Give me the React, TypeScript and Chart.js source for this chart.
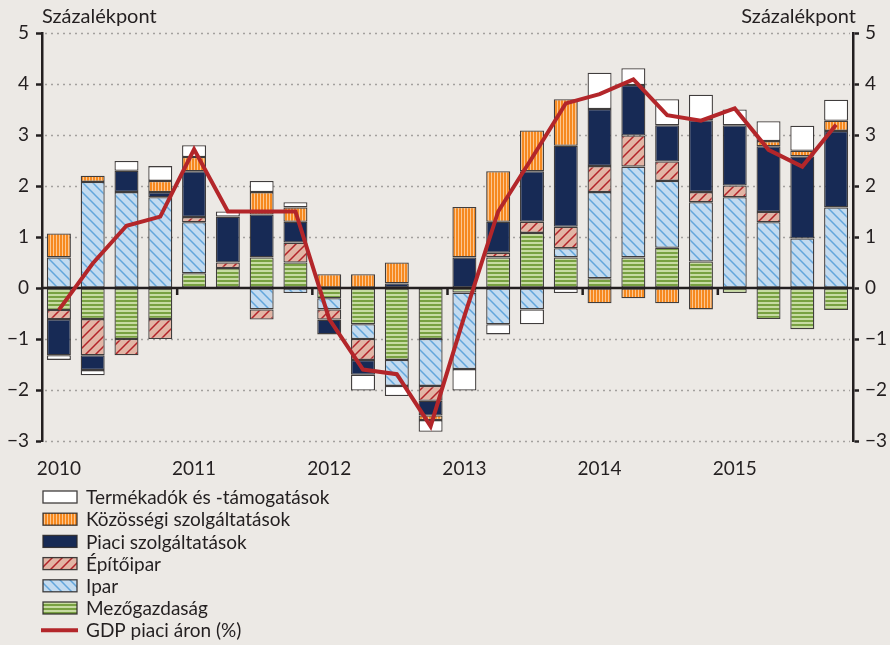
import React, { useEffect, useRef } from "react";
import { Chart, registerables } from "chart.js";
Chart.register(...registerables);

const categories = [
  "2010 I.", "2010 II.", "2010 III.", "2010 IV.",
  "2011 I.", "2011 II.", "2011 III.", "2011 IV.",
  "2012 I.", "2012 II.", "2012 III.", "2012 IV.",
  "2013 I.", "2013 II.", "2013 III.", "2013 IV.",
  "2014 I.", "2014 II.", "2014 III.", "2014 IV.",
  "2015 I.", "2015 II.", "2015 III.", "2015 IV.",
];
const yearTickLabels = [
  "2010", "", "", "", "2011", "", "", "", "2012", "", "", "",
  "2013", "", "", "", "2014", "", "", "", "2015", "", "", "",
];

const mezogazdasag = [-0.43, -0.61, -1.0, -0.61, 0.29, 0.39, 0.6, 0.5, -0.2, -0.71, -1.41, -1.0, -0.09, 0.6, 1.08, 0.6, 0.19, 0.6, 0.79, 0.52, -0.1, -0.61, -0.81, -0.43];
const ipar = [0.6, 2.08, 1.88, 1.78, 1.0, 0, -0.42, -0.1, -0.22, -0.29, -0.51, -0.92, -1.5, -0.71, -0.42, 0.18, 1.69, 1.78, 1.31, 1.16, 1.78, 1.29, 0.97, 1.58];
const epitoipar = [-0.18, -0.71, -0.32, -0.39, 0.1, 0.11, -0.2, 0.39, -0.2, -0.41, 0, -0.29, 0, 0.09, 0.22, 0.42, 0.51, 0.61, 0.38, 0.2, 0.23, 0.2, 0, 0];
const piaci = [-0.71, -0.29, 0.42, 0.1, 0.9, 0.9, 0.84, 0.41, -0.29, -0.29, 0.09, -0.29, 0.6, 0.61, 0.99, 1.59, 1.12, 0.99, 0.71, 1.41, 1.18, 1.29, 1.61, 1.5];
const kozossegi = [0.47, 0.12, 0, 0.22, 0.28, 0, 0.44, 0.28, 0.27, 0.27, 0.41, -0.09, 0.99, 0.99, 0.8, 0.91, -0.3, -0.2, -0.3, -0.42, 0, 0.1, 0.11, 0.2];
const termekadok = [-0.09, -0.1, 0.19, 0.29, 0.23, 0.1, 0.22, 0.1, 0, -0.31, -0.2, -0.23, -0.42, -0.2, -0.29, -0.1, 0.71, 0.33, 0.51, 0.5, 0.31, 0.39, 0.49, 0.41];
const gdp = [-0.43, 0.48, 1.22, 1.4, 2.72, 1.5, 1.5, 1.5, -0.61, -1.6, -1.69, -2.71, -0.55, 1.5, 2.55, 3.62, 3.8, 4.09, 3.39, 3.28, 3.52, 2.71, 2.38, 3.2];

const yMin = -3;
const yMax = 5;
const axisTitle = "Százalékpont";

const FONT = "Lato, 'Liberation Sans', sans-serif";
const BG = "#ece9e5";
const DARK = "#231f20";

function makePattern(kind: string): CanvasPattern | string {
  const c = document.createElement("canvas");
  const ctx = c.getContext("2d")!;
  if (kind === "ipar" || kind === "epito") {
    const s = 10;
    c.width = s;
    c.height = s;
    ctx.fillStyle = kind === "ipar" ? "#c3dbf0" : "#e2b5a5";
    ctx.fillRect(0, 0, s, s);
    ctx.strokeStyle = kind === "ipar" ? "#62a6dc" : "#b3242a";
    ctx.lineWidth = 1.5;
    ctx.beginPath();
    if (kind === "ipar") {
      ctx.moveTo(-1, -1); ctx.lineTo(s + 1, s + 1);
      ctx.moveTo(-s - 1, -1); ctx.lineTo(1, s + 1);
      ctx.moveTo(s - 1, -1); ctx.lineTo(2 * s + 1, s + 1);
    } else {
      ctx.moveTo(-1, s + 1); ctx.lineTo(s + 1, -1);
      ctx.moveTo(-s - 1, s + 1); ctx.lineTo(1, -1);
      ctx.moveTo(s - 1, s + 1); ctx.lineTo(2 * s + 1, -1);
    }
    ctx.stroke();
  } else if (kind === "mezo") {
    c.width = 4;
    c.height = 4;
    ctx.fillStyle = "#c7dba2";
    ctx.fillRect(0, 0, 4, 4);
    ctx.fillStyle = "#78a141";
    ctx.fillRect(0, 0, 4, 2);
  } else if (kind === "kozos") {
    c.width = 3;
    c.height = 3;
    ctx.fillStyle = "#f6891f";
    ctx.fillRect(0, 0, 3, 3);
    ctx.fillStyle = "#fcc690";
    ctx.fillRect(2, 0, 1, 3);
  }
  const p = ctx.createPattern(c, "repeat");
  return p || "#ccc";
}

export default function App() {
  const ref = useRef<HTMLCanvasElement>(null);
  useEffect(() => {
    document.body.style.margin = "0";
    const canvas = ref.current!;
    const fills = {
      termek: "#ffffff",
      kozos: makePattern("kozos"),
      piaci: "#172a55",
      epito: makePattern("epito"),
      ipar: makePattern("ipar"),
      mezo: makePattern("mezo"),
    };
    const barCommon = {
      type: "bar" as const,
      borderColor: "rgba(45,42,42,0.9)",
      borderWidth: 1.3,
      borderSkipped: false as const,
      barPercentage: 0.71,
      categoryPercentage: 1,
      stack: "s",
      order: 1,
      yAxisID: "y",
    };
    const legendItems = [
      { label: "Termékadók és -támogatások", fill: fills.termek, kind: "box" },
      { label: "Közösségi szolgáltatások", fill: fills.kozos, kind: "box" },
      { label: "Piaci szolgáltatások", fill: fills.piaci, kind: "box" },
      { label: "Építőipar", fill: fills.epito, kind: "box" },
      { label: "Ipar", fill: fills.ipar, kind: "box" },
      { label: "Mezőgazdaság", fill: fills.mezo, kind: "box" },
      { label: "GDP piaci áron (%)", fill: "#b3262a", kind: "line" },
    ];

    const decor = {
      id: "decor",
      beforeDatasetsDraw(chart: any) {
        const ctx = chart.ctx;
        const area = chart.chartArea;
        const y = chart.scales.y;
        ctx.save();
        ctx.strokeStyle = "#a3a19e";
        ctx.lineWidth = 1.6;
        ctx.setLineDash([2, 4]);
        for (let v = yMin; v <= yMax; v++) {
          if (v === 0) continue;
          const py = Math.round(y.getPixelForValue(v)) + 0.5;
          ctx.beginPath();
          ctx.moveTo(area.left + 3, py);
          ctx.lineTo(area.right - 3, py);
          ctx.stroke();
        }
        ctx.restore();
      },
      beforeDatasetDraw(chart: any, args: any) {
        if (args.meta.type !== "line") return;
        const ctx = chart.ctx;
        const area = chart.chartArea;
        const y = chart.scales.y;
        const x = chart.scales.x;
        const y0 = y.getPixelForValue(0);
        ctx.save();
        ctx.strokeStyle = DARK;
        ctx.lineWidth = 2.5;
        ctx.beginPath();
        ctx.moveTo(area.left, y0);
        ctx.lineTo(area.right, y0);
        for (let i = 4; i < categories.length; i += 4) {
          const px = (x.getPixelForValue(i - 1) + x.getPixelForValue(i)) / 2;
          ctx.moveTo(px, y0);
          ctx.lineTo(px, y0 + 7);
        }
        ctx.stroke();
        ctx.restore();
      },
      afterDraw(chart: any) {
        const ctx = chart.ctx;
        ctx.save();
        ctx.fillStyle = DARK;
        ctx.font = `20px ${FONT}`;
        ctx.textBaseline = "middle";
        ctx.textAlign = "left";
        ctx.fillText(axisTitle, 42, 17);
        ctx.textAlign = "right";
        ctx.fillText(axisTitle, 856, 17);
        // legend
        ctx.font = `19px ${FONT}`;
        ctx.textAlign = "left";
        legendItems.forEach((it, i) => {
          const cy = 497 + i * 22.2;
          if (it.kind === "box") {
            ctx.fillStyle = it.fill;
            ctx.fillRect(43, cy - 6, 34, 12);
            ctx.strokeStyle = "rgba(45,42,42,0.9)";
            ctx.lineWidth = 1.3;
            ctx.strokeRect(43, cy - 6, 34, 12);
          } else {
            ctx.strokeStyle = it.fill as string;
            ctx.lineWidth = 4;
            ctx.beginPath();
            ctx.moveTo(41, cy);
            ctx.lineTo(78, cy);
            ctx.stroke();
          }
          ctx.fillStyle = DARK;
          ctx.fillText(it.label, 86, cy + 1);
        });
        ctx.restore();
      },
    };

    const tickFmt = (v: any) => String(v).replace("-", "\u2212");

    const chart = new Chart(canvas, {
      type: "bar",
      data: {
        labels: categories,
        datasets: [
          {
            type: "line",
            label: "GDP piaci áron (%)",
            data: gdp,
            borderColor: "#b3262a",
            backgroundColor: "#b3262a",
            borderWidth: 4,
            pointRadius: 0,
            tension: 0,
            order: 0,
            yAxisID: "y",
          } as any,
          { ...barCommon, label: "Mezőgazdaság", data: mezogazdasag, backgroundColor: fills.mezo },
          { ...barCommon, label: "Ipar", data: ipar, backgroundColor: fills.ipar },
          { ...barCommon, label: "Építőipar", data: epitoipar, backgroundColor: fills.epito },
          { ...barCommon, label: "Piaci szolgáltatások", data: piaci, backgroundColor: fills.piaci },
          { ...barCommon, label: "Közösségi szolgáltatások", data: kozossegi, backgroundColor: fills.kozos },
          { ...barCommon, label: "Termékadók és -támogatások", data: termekadok, backgroundColor: fills.termek },
        ],
      },
      options: {
        animation: false,
        responsive: false,
        maintainAspectRatio: false,
        layout: { padding: { top: 33, bottom: 165, left: 0, right: 0 } },
        plugins: { legend: { display: false }, tooltip: { enabled: false } },
        scales: {
          x: {
            stacked: true,
            grid: { display: false },
            border: { display: false },
            ticks: {
              autoSkip: false,
              maxRotation: 0,
              padding: 8,
              color: DARK,
              font: { family: FONT, size: 19 },
              callback: (_v: any, i: number) => yearTickLabels[i],
            },
            afterFit: (s: any) => { s.height = 39; },
          },
          y: {
            stacked: true,
            position: "left",
            min: yMin,
            max: yMax,
            ticks: {
              stepSize: 1,
              padding: 7,
              color: DARK,
              font: { family: FONT, size: 19 },
              callback: tickFmt,
            },
            grid: { drawOnChartArea: false, drawTicks: true, tickLength: 6, tickWidth: 2.5, tickColor: DARK },
            border: { display: true, color: DARK, width: 2.5 },
            afterFit: (s: any) => { s.width = 42; },
          },
          y2: {
            position: "right",
            min: yMin,
            max: yMax,
            ticks: {
              stepSize: 1,
              padding: 6,
              color: DARK,
              font: { family: FONT, size: 19 },
              callback: tickFmt,
            },
            grid: { drawOnChartArea: false, drawTicks: true, tickLength: 6, tickWidth: 2.5, tickColor: DARK },
            border: { display: true, color: DARK, width: 2.5 },
            afterFit: (s: any) => { s.width = 37; },
          },
        },
      } as any,
      plugins: [decor],
    });
    return () => chart.destroy();
  }, []);

  return (
    <div style={{ position: "absolute", left: 0, top: 0, width: 890, height: 645, background: BG }}>
      <canvas ref={ref} width={890} height={645} style={{ display: "block", width: 890, height: 645 }} />
    </div>
  );
}
